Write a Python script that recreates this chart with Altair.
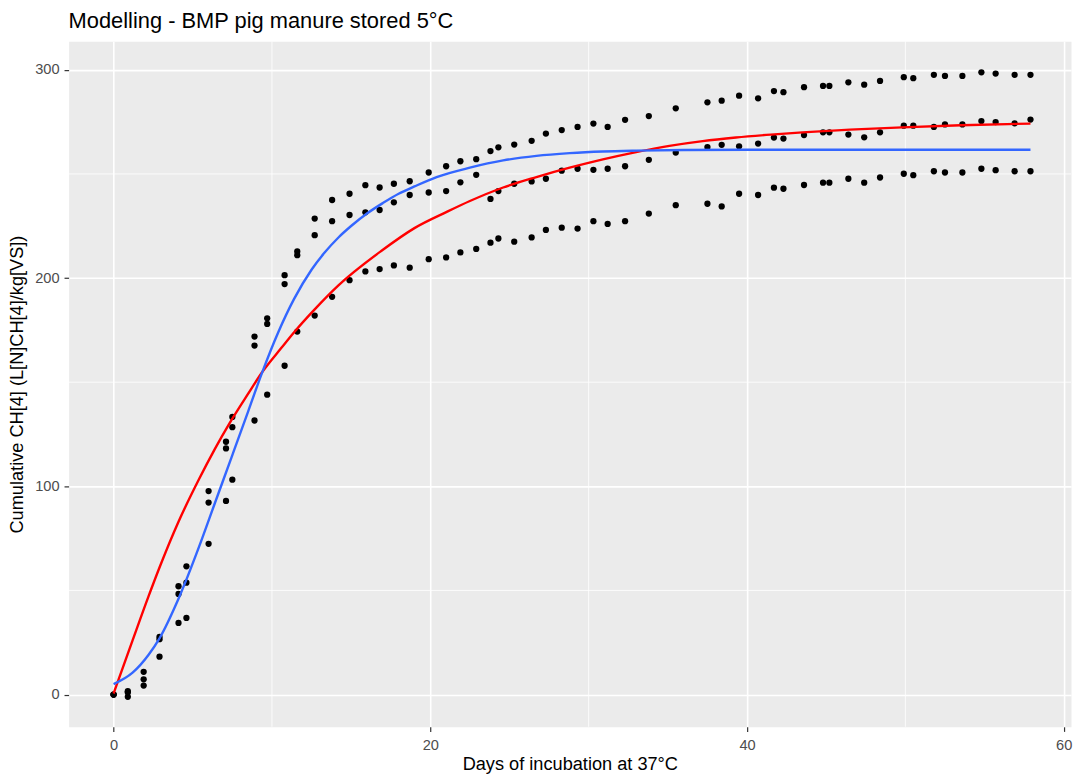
import altair as alt
import pandas as pd

# ---- data ----
days = [0, 0.9, 1.9, 2.9, 4.1, 4.6, 6.0, 7.1, 7.5, 8.9, 9.7, 10.8, 11.6, 12.7, 13.8,
        14.9, 15.9, 16.8, 17.7, 18.7, 19.9, 21.0, 21.9, 22.9, 23.8, 24.3, 25.3, 26.4,
        27.3, 28.3, 29.3, 30.3, 31.2, 32.3, 33.8, 35.5, 37.5, 38.4, 39.5, 40.7, 41.7,
        42.3, 43.6, 44.8, 45.2, 46.4, 47.4, 48.4, 49.9, 50.5, 51.8, 52.5, 53.6, 54.8,
        55.7, 56.9, 57.9]
rep_a = [0, 1.6, 10.9, 27.7, 52.0, 61.6, 97.7, 121.4, 133.3, 171.9, 180.7, 201.4, 212.8,
         228.6, 237.5, 240.5, 244.6, 243.5, 245.3, 246.5, 250.7, 253.7, 256.1, 257.1,
         261.0, 262.8, 264.1, 265.9, 269.4, 271.1, 272.6, 274.2, 272.6, 276.0, 277.8,
         281.5, 284.4, 285.2, 287.6, 286.3, 289.8, 289.3, 291.7, 292.3, 292.3, 294.0,
         292.9, 294.7, 296.5, 296.0, 297.6, 297.1, 297.1, 298.8, 298.2, 297.6, 297.6]
rep_b = [0, -1.1, 7.3, 26.6, 48.3, 53.7, 92.2, 118.2, 128.4, 167.6, 178.0, 197.1, 211.0,
         220.6, 227.3, 230.3, 231.6, 232.7, 236.4, 239.9, 241.1, 241.8, 246.0, 249.6,
         238.0, 241.8, 245.3, 246.4, 247.7, 251.6, 252.5, 252.0, 252.5, 253.7, 256.8,
         260.3, 262.9, 264.0, 263.3, 264.6, 267.5, 267.0, 268.7, 270.0, 270.0, 268.9,
         267.6, 270.0, 273.2, 273.2, 272.6, 273.8, 273.8, 275.4, 274.9, 274.3, 276.1]
rep_c = [0, 1.0, 4.3, 18.2, 34.4, 36.8, 72.4, 93.0, 103.2, 131.6, 144.0, 157.9, 174.3,
         182.0, 191.0, 199.0, 203.2, 204.3, 206.1, 205.0, 209.1, 209.9, 212.3, 214.0,
         217.0, 219.0, 217.5, 219.5, 223.1, 224.2, 223.8, 227.3, 226.0, 227.3, 231.0,
         235.0, 235.7, 234.4, 240.5, 239.9, 243.4, 242.9, 244.7, 245.8, 245.8, 247.7,
         245.8, 248.3, 250.1, 249.4, 251.3, 250.7, 250.7, 252.5, 251.8, 251.3, 251.3]

red_days = [0, 1.2, 2.2, 2.9, 4.1, 5.4, 6.4, 7.3, 8.5, 9.4, 10.6, 11.4, 12.7, 14.2,
            16.9, 19.0, 21.1, 22.5, 24.6, 26.7, 28.8, 30.9, 33.0, 35.1, 37.2, 39.3,
            41.5, 43.5, 46.5, 49.8, 53.5, 57.9]
red_fit = [0.5, 26, 47, 61, 83, 103.5, 118, 130, 144.5, 155, 166.5, 174, 185, 196.5,
           213, 224, 232, 237, 243.5, 248.5, 253, 257, 260.5, 263.5, 265.8, 267.5,
           268.9, 270, 271.3, 272.4, 273.4, 274.2]

blue_days = [0, 1.2, 2.2, 2.9, 4.1, 5.4, 6.4, 7.5, 8.5, 9.35, 10.4, 11.4, 12.5, 13.3,
             14.2, 15.0, 16.0, 17.0, 18.0, 19.0, 20.4, 22.5, 24.6, 26.7, 28.8, 30.9,
             33.0, 36.0, 40.0, 45.0, 50.0, 57.9]
blue_fit = [5, 10.5, 19, 27, 46, 71, 92, 115, 136, 154, 174, 190, 204, 212,
            219.5, 225, 231, 236, 240.5, 244, 248.5, 253, 256.5, 258.7, 260, 260.8,
            261.2, 261.5, 261.6, 261.6, 261.6, 261.6]

x_major = [0, 20, 40, 60]
y_major = [0, 100, 200, 300]
x_minor = [10, 30, 50]
y_minor = [50, 150, 250]

FONT = "Liberation Sans"
X_TITLE = "Days of incubation at 37°C"
Y_TITLE = "Cumulative CH[4] (L[N]CH[4]/kg[VS])"

xs = alt.Scale(domain=[-2.84, 60.46], nice=False, zero=False)
ys = alt.Scale(domain=[-15.5, 313.7], nice=False, zero=False)

xaxis = alt.Axis(values=x_major, title=X_TITLE, grid=True, gridColor="white",
                 gridWidth=1.6, domain=False, tickColor="#333333", tickSize=4.6,
                 tickWidth=1.2, labelColor="#4D4D4D", labelFont=FONT,
                 labelFontSize=14.7, labelPadding=6, titleFont=FONT,
                 titleFontSize=18.3, titleFontWeight="normal", titleColor="black",
                 titlePadding=4)
yaxis = alt.Axis(values=y_major, title=Y_TITLE, grid=True, gridColor="white",
                 gridWidth=1.6, domain=False, tickColor="#333333", tickSize=4.6,
                 tickWidth=1.2, labelColor="#4D4D4D", labelFont=FONT,
                 labelFontSize=14.7, labelPadding=5, titleFont=FONT,
                 titleFontSize=18.3, titleFontWeight="normal", titleColor="black",
                 titlePadding=8)

pts = pd.DataFrame({"day": days * 3, "ch4": rep_a + rep_b + rep_c})
red_df = pd.DataFrame({"day": red_days, "ch4": red_fit})
blue_df = pd.DataFrame({"day": blue_days, "ch4": blue_fit})

minor_x = alt.Chart(pd.DataFrame({"day": x_minor})).mark_rule(
    color="white", strokeWidth=0.8).encode(x=alt.X("day:Q", scale=xs, axis=xaxis))
minor_y = alt.Chart(pd.DataFrame({"ch4": y_minor})).mark_rule(
    color="white", strokeWidth=0.8).encode(y=alt.Y("ch4:Q", scale=ys, axis=yaxis))

points = alt.Chart(pts).mark_circle(size=40, color="black", opacity=1).encode(
    x=alt.X("day:Q", scale=xs, axis=xaxis),
    y=alt.Y("ch4:Q", scale=ys, axis=yaxis))

red_line = alt.Chart(red_df).mark_line(color="#FF0000", strokeWidth=2.4,
                                       interpolate="monotone").encode(
    x=alt.X("day:Q", scale=xs, axis=xaxis),
    y=alt.Y("ch4:Q", scale=ys, axis=yaxis))

blue_line = alt.Chart(blue_df).mark_line(color="#3366FF", strokeWidth=2.4,
                                         interpolate="monotone").encode(
    x=alt.X("day:Q", scale=xs, axis=xaxis),
    y=alt.Y("ch4:Q", scale=ys, axis=yaxis))

chart = alt.layer(minor_x, minor_y, points, red_line, blue_line).properties(
    width=1009, height=690,
    autosize=alt.AutoSizeParams(type="none"),
    padding={"left": 61, "top": 31, "right": 3, "bottom": 52},
    title=alt.TitleParams("Modelling - BMP pig manure stored 5°C", anchor="start",
                          frame="group", font=FONT, fontSize=22,
                          fontWeight="normal", color="black", offset=8.5),
).configure_view(fill="#EBEBEB", stroke="transparent")

chart.save("out.html", embed_options={"renderer": "svg", "actions": False})
